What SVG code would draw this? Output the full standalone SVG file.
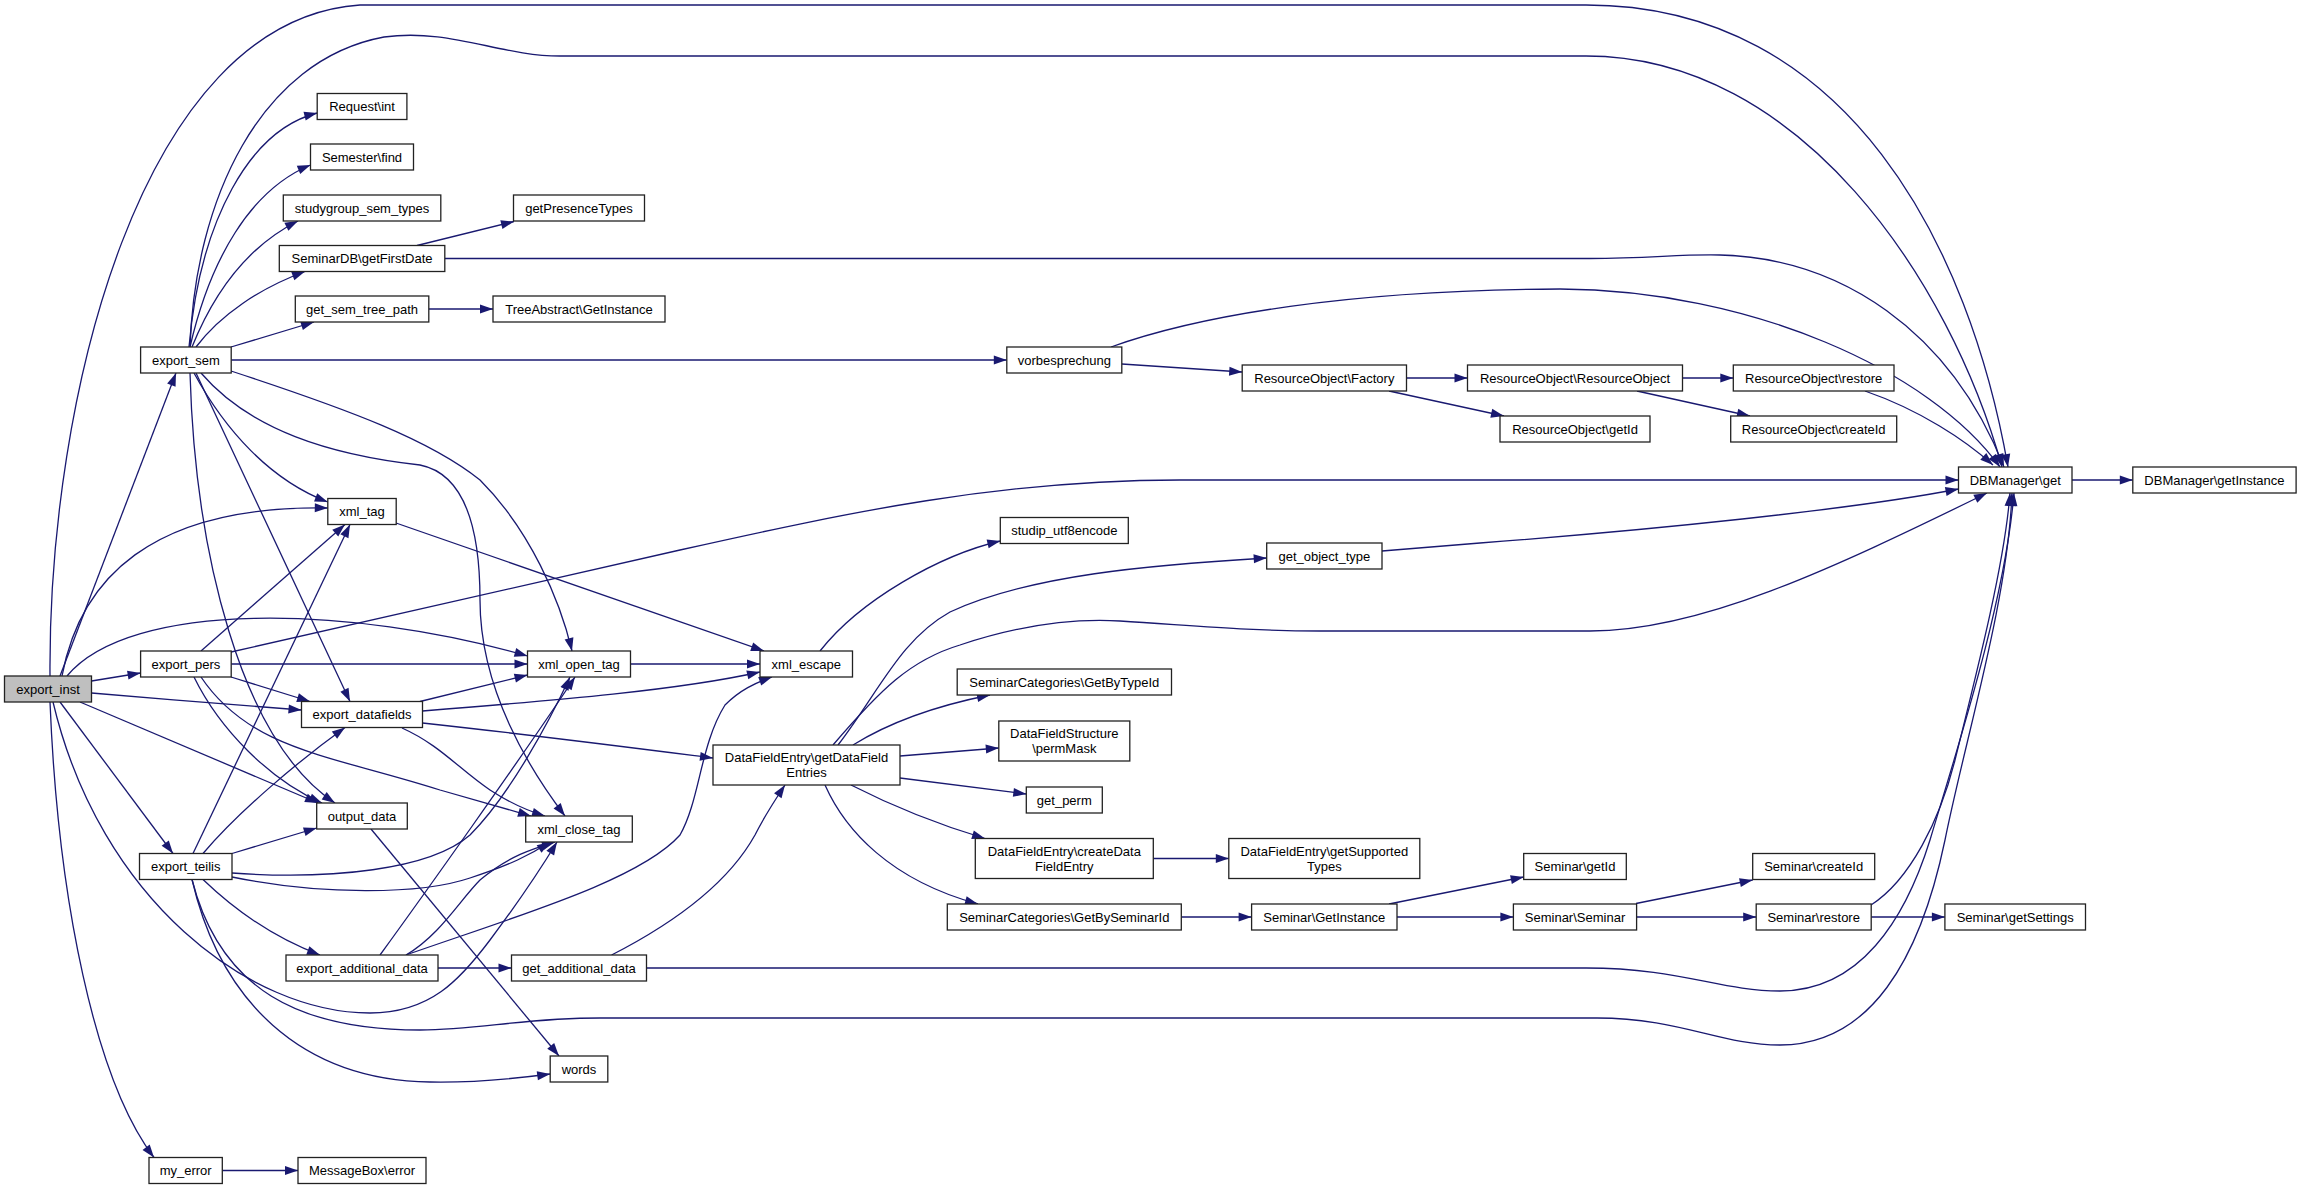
<svg xmlns="http://www.w3.org/2000/svg" width="2301" height="1189" viewBox="0 0 2301 1189">
<style>
.node rect{fill:#fff;stroke:#222;stroke-width:1.3}
.root rect{fill:#bfbfbf}
.node text{font-family:"Liberation Sans",Arial,sans-serif;font-size:13px;text-anchor:middle;fill:#000}
.edge{fill:none;stroke:#191970;stroke-width:1.3;marker-end:url(#arr)}
</style>
<defs>
<marker id="arr" markerUnits="userSpaceOnUse" markerWidth="14" markerHeight="10" refX="13" refY="5" orient="auto" viewBox="0 0 13 10"><path d="M0,0.5 L13,5 L0,9.5 z" fill="#191970"/></marker>
</defs>
<rect width="2301" height="1189" fill="#fff"/>
<g id="edges">
<path class="edge" d="M50,676 C48,400 140,20 360,5 L1586,5 C1850,5 1970,250 2008,467"/>
<path class="edge" d="M60,676 L176,373"/>
<path class="edge" d="M62,676 C80,580 150,505 327.8,508"/>
<path class="edge" d="M67,676 C130,600 350,605 527.5,656"/>
<path class="edge" d="M91.5,681 L140.6,673"/>
<path class="edge" d="M91.5,693 C160,699 240,705 301.5,710"/>
<path class="edge" d="M80,702 L318,803"/>
<path class="edge" d="M60,702 L173,853.5"/>
<path class="edge" d="M50,702 C58,900 95,1080 154,1157.5"/>
<path class="edge" d="M53,702 C100,900 250,1013 370,1013 C430,1013 460,980 490,940 C520,900 540,870 557,842"/>
<path class="edge" d="M189,347 C200,220 250,130 317.2,113"/>
<path class="edge" d="M190,347 C210,260 250,190 310.5,165"/>
<path class="edge" d="M192,347 C215,290 250,245 298,221"/>
<path class="edge" d="M196,347 C220,315 260,288 305,271.5"/>
<path class="edge" d="M231,347 L314,322"/>
<path class="edge" d="M231.2,360 L1006.8,360"/>
<path class="edge" d="M190,347 C195,200 260,60 384,37 C450,28 500,56 560,56 L1586,56 C1800,56 1950,280 2002,467"/>
<path class="edge" d="M194,373 C225,430 270,480 327.8,502"/>
<path class="edge" d="M196,373 L350,701.5"/>
<path class="edge" d="M190,373 C195,550 240,740 335,803"/>
<path class="edge" d="M201,373 C250,430 330,455 420,465 C470,475 480,540 480,600 C480,690 530,770 565,816"/>
<path class="edge" d="M231,371 C350,410 430,440 480,480 C530,530 560,600 572,651"/>
<path class="edge" d="M201,651 L345,524.5"/>
<path class="edge" d="M231.2,664 L527.5,664"/>
<path class="edge" d="M231,652 L680,550 C850,512 1000,480 1180,480 L1958.5,480"/>
<path class="edge" d="M231,677 L310,701.5"/>
<path class="edge" d="M194,677 C220,730 270,780 322,803"/>
<path class="edge" d="M201,677 C250,750 330,755 440,790 L531,816"/>
<path class="edge" d="M420,701.5 L527.5,675"/>
<path class="edge" d="M422.5,711 C560,700 680,690 760,672"/>
<path class="edge" d="M422.5,723 C550,737 650,750 713,758"/>
<path class="edge" d="M402,728 C440,745 460,770 490,790 C510,803 525,810 545,816"/>
<path class="edge" d="M396,523 L764,651"/>
<path class="edge" d="M630.5,664 L760,664"/>
<path class="edge" d="M371,829 L559,1056"/>
<path class="edge" d="M232,853.5 L316.7,828"/>
<path class="edge" d="M193,853.5 L350,524.5"/>
<path class="edge" d="M203,853.5 C240,810 300,760 345,727.5"/>
<path class="edge" d="M232,873 C330,880 430,870 470,835 C510,795 550,720 570,677"/>
<path class="edge" d="M232,877 C320,895 420,895 470,878 C510,865 530,855 550,842"/>
<path class="edge" d="M203,879.5 C240,915 280,940 320,955"/>
<path class="edge" d="M192,879.5 C220,1000 300,1080 430,1082 C480,1083 520,1078 550.2,1074"/>
<path class="edge" d="M192,879.5 C220,990 300,1030 420,1030 C480,1030 520,1018 600,1018 L1597,1018 C1680,1018 1720,1045 1780,1045 C1870,1045 1920,960 1945,840 C1965,740 2008,600 2012,493"/>
<path class="edge" d="M646.5,968 L1586,968 C1680,968 1720,991 1780,991 C1860,991 1905,920 1930,840 C1960,740 2005,600 2014,493"/>
<path class="edge" d="M1871,905 C1910,880 1940,820 1955,760 C1980,660 2005,560 2010,493"/>
<path class="edge" d="M406,955 C520,915 640,880 680,835 C700,800 700,745 725,705 C740,690 755,683 772,677"/>
<path class="edge" d="M611.6,955 C680,920 730,880 755,835 C765,815 775,800 785,785"/>
<path class="edge" d="M380,955 C420,900 520,760 575,677"/>
<path class="edge" d="M406,955 C440,935 460,900 480,880 C510,855 535,848 555,842"/>
<path class="edge" d="M820,651 C860,600 940,555 1000.3,541"/>
<path class="edge" d="M838,745 C880,690 900,640 950,612 C1030,575 1150,565 1266.7,558"/>
<path class="edge" d="M833,745 C880,690 910,660 960,645 C1020,625 1070,618 1120,621 C1200,626 1250,631 1320,631 L1590,631 C1700,631 1830,570 1987,493"/>
<path class="edge" d="M853,745 C890,722 940,705 990,695"/>
<path class="edge" d="M900,756 L998.8,748"/>
<path class="edge" d="M900,778 L1026.3,794"/>
<path class="edge" d="M851,785 C900,810 940,825 985,838.5"/>
<path class="edge" d="M825,785 C845,830 890,880 978,904"/>
<path class="edge" d="M1111,347 C1200,315 1350,290 1560,289 C1750,290 1930,370 2000,467"/>
<path class="edge" d="M444.8,258.5 L1590,258.5 C1650,258.5 1680,254 1720,255 C1840,258 1950,330 2004,467"/>
<path class="edge" d="M1865,391 C1920,410 1965,440 1993,465"/>
<path class="edge" d="M417,245.5 L514,221.5"/>
<path class="edge" d="M428.8,309 L493,309"/>
<path class="edge" d="M1121.8,364 L1242.2,372"/>
<path class="edge" d="M1406.5,378 L1467.5,378"/>
<path class="edge" d="M1389,391 L1504,416"/>
<path class="edge" d="M1682.5,378 L1733.3,378"/>
<path class="edge" d="M1637,391 L1750,416"/>
<path class="edge" d="M2072,480 L2132.8,480"/>
<path class="edge" d="M1153.3,858.5 L1228.8,858.5"/>
<path class="edge" d="M1181.3,917 L1251.6,917"/>
<path class="edge" d="M1389,904 L1523.7,877"/>
<path class="edge" d="M1397,917 L1513.4,917"/>
<path class="edge" d="M1636,903.5 L1752.7,880"/>
<path class="edge" d="M1636.6,917 L1756.2,917"/>
<path class="edge" d="M1871.2,917 L1944.9,917"/>
<path class="edge" d="M222.3,1170.5 L298,1170.5"/>
<path class="edge" d="M438,968 L511.5,968"/>
<path class="edge" d="M1382,551 L1480,543 C1650,530 1850,510 1958.5,489"/>
</g>
<g id="n_export_inst" class="node root"><rect x="4.5" y="676" width="87" height="26"/><text x="48" y="693.5">export_inst</text></g>
<g id="n_export_sem" class="node"><rect x="140.6" y="347" width="90.6" height="26"/><text x="185.9" y="364.5">export_sem</text></g>
<g id="n_export_pers" class="node"><rect x="140.6" y="651" width="90.6" height="26"/><text x="185.9" y="668.5">export_pers</text></g>
<g id="n_export_teilis" class="node"><rect x="139.5" y="853.5" width="92.5" height="26"/><text x="185.75" y="871">export_teilis</text></g>
<g id="n_my_error" class="node"><rect x="149" y="1157.5" width="73.3" height="26"/><text x="185.65" y="1175">my_error</text></g>
<g id="n_request_int" class="node"><rect x="317.2" y="93.5" width="89.7" height="26"/><text x="362.05" y="111">Request\int</text></g>
<g id="n_semester_find" class="node"><rect x="310.5" y="144" width="103" height="26"/><text x="362" y="161.5">Semester\find</text></g>
<g id="n_studygroup_sem_types" class="node"><rect x="283.3" y="195" width="157.5" height="26"/><text x="362.05" y="212.5">studygroup_sem_types</text></g>
<g id="n_seminardb_getfirstdate" class="node"><rect x="279.3" y="245.5" width="165.5" height="26"/><text x="362.05" y="263">SeminarDB\getFirstDate</text></g>
<g id="n_get_sem_tree_path" class="node"><rect x="295.3" y="296" width="133.5" height="26"/><text x="362.05" y="313.5">get_sem_tree_path</text></g>
<g id="n_xml_tag" class="node"><rect x="327.8" y="498.5" width="68.4" height="26"/><text x="362" y="516">xml_tag</text></g>
<g id="n_export_datafields" class="node"><rect x="301.5" y="701.5" width="121" height="26"/><text x="362" y="719">export_datafields</text></g>
<g id="n_output_data" class="node"><rect x="316.7" y="803" width="90.6" height="26"/><text x="362" y="820.5">output_data</text></g>
<g id="n_export_additional_data" class="node"><rect x="286" y="955" width="152" height="26"/><text x="362" y="972.5">export_additional_data</text></g>
<g id="n_messagebox_error" class="node"><rect x="298" y="1157.5" width="128" height="26"/><text x="362" y="1175">MessageBox\error</text></g>
<g id="n_getpresencetypes" class="node"><rect x="513.5" y="195" width="131" height="26"/><text x="579" y="212.5">getPresenceTypes</text></g>
<g id="n_treeabstract_getinstance" class="node"><rect x="493" y="296" width="172" height="26"/><text x="579" y="313.5">TreeAbstract\GetInstance</text></g>
<g id="n_xml_open_tag" class="node"><rect x="527.5" y="651" width="103" height="26"/><text x="579" y="668.5">xml_open_tag</text></g>
<g id="n_xml_close_tag" class="node"><rect x="525.7" y="816" width="106.6" height="26"/><text x="579" y="833.5">xml_close_tag</text></g>
<g id="n_get_additional_data" class="node"><rect x="511.5" y="955" width="135" height="26"/><text x="579" y="972.5">get_additional_data</text></g>
<g id="n_words" class="node"><rect x="550.2" y="1056" width="57.6" height="26"/><text x="579" y="1073.5">words</text></g>
<g id="n_xml_escape" class="node"><rect x="760" y="651" width="92.5" height="26"/><text x="806.25" y="668.5">xml_escape</text></g>
<g id="n_getdatafieldentries" class="node"><rect x="713" y="745" width="187" height="40"/><text x="806.5" y="762">DataFieldEntry\getDataField</text><text x="806.5" y="777">Entries</text></g>
<g id="n_vorbesprechung" class="node"><rect x="1006.8" y="347" width="115" height="26"/><text x="1064.3" y="364.5">vorbesprechung</text></g>
<g id="n_studip_utf8encode" class="node"><rect x="1000.3" y="517.5" width="128" height="26"/><text x="1064.3" y="535">studip_utf8encode</text></g>
<g id="n_getbytypeid" class="node"><rect x="957.2" y="669" width="214.3" height="26"/><text x="1064.35" y="686.5">SeminarCategories\GetByTypeId</text></g>
<g id="n_permmask" class="node"><rect x="998.8" y="721" width="131" height="40"/><text x="1064.3" y="738">DataFieldStructure</text><text x="1064.3" y="753">\permMask</text></g>
<g id="n_get_perm" class="node"><rect x="1026.3" y="787" width="76" height="26"/><text x="1064.3" y="804.5">get_perm</text></g>
<g id="n_createdatafieldentry" class="node"><rect x="975.3" y="838.5" width="178" height="40"/><text x="1064.3" y="855.5">DataFieldEntry\createData</text><text x="1064.3" y="870.5">FieldEntry</text></g>
<g id="n_getbyseminarid" class="node"><rect x="947.3" y="904" width="234" height="26"/><text x="1064.3" y="921.5">SeminarCategories\GetBySeminarId</text></g>
<g id="n_ro_factory" class="node"><rect x="1242.2" y="365" width="164.3" height="26"/><text x="1324.35" y="382.5">ResourceObject\Factory</text></g>
<g id="n_get_object_type" class="node"><rect x="1266.7" y="543" width="115.3" height="26"/><text x="1324.35" y="560.5">get_object_type</text></g>
<g id="n_getsupportedtypes" class="node"><rect x="1228.8" y="838.5" width="191" height="40"/><text x="1324.3" y="855.5">DataFieldEntry\getSupported</text><text x="1324.3" y="870.5">Types</text></g>
<g id="n_seminar_getinstance" class="node"><rect x="1251.6" y="904" width="145.4" height="26"/><text x="1324.3" y="921.5">Seminar\GetInstance</text></g>
<g id="n_ro_resourceobject" class="node"><rect x="1467.5" y="365" width="215" height="26"/><text x="1575" y="382.5">ResourceObject\ResourceObject</text></g>
<g id="n_ro_getid" class="node"><rect x="1500" y="416" width="150" height="26"/><text x="1575" y="433.5">ResourceObject\getId</text></g>
<g id="n_seminar_getid" class="node"><rect x="1523.7" y="853.5" width="102.6" height="26"/><text x="1575" y="871">Seminar\getId</text></g>
<g id="n_seminar_seminar" class="node"><rect x="1513.4" y="904" width="123.2" height="26"/><text x="1575" y="921.5">Seminar\Seminar</text></g>
<g id="n_ro_restore" class="node"><rect x="1733.3" y="365" width="160.7" height="26"/><text x="1813.65" y="382.5">ResourceObject\restore</text></g>
<g id="n_ro_createid" class="node"><rect x="1730.7" y="416" width="166" height="26"/><text x="1813.7" y="433.5">ResourceObject\createId</text></g>
<g id="n_seminar_createid" class="node"><rect x="1752.7" y="853.5" width="122" height="26"/><text x="1813.7" y="871">Seminar\createId</text></g>
<g id="n_seminar_restore" class="node"><rect x="1756.2" y="904" width="115" height="26"/><text x="1813.7" y="921.5">Seminar\restore</text></g>
<g id="n_dbmanager_get" class="node"><rect x="1958.5" y="467" width="113.5" height="26"/><text x="2015.25" y="484.5">DBManager\get</text></g>
<g id="n_seminar_getsettings" class="node"><rect x="1944.9" y="904" width="140.6" height="26"/><text x="2015.2" y="921.5">Seminar\getSettings</text></g>
<g id="n_dbmanager_getinstance" class="node"><rect x="2132.8" y="467" width="163.3" height="26"/><text x="2214.45" y="484.5">DBManager\getInstance</text></g>
</svg>
